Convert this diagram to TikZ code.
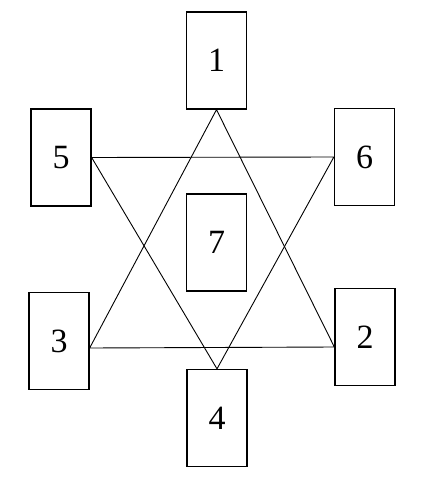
\documentclass[tikz,border=0pt]{standalone}
\usepackage{fontspec}
\setmainfont{Liberation Serif}
\begin{document}
\begin{tikzpicture}[x=1pt,y=-1pt,
  card/.style={draw,line width=1.3pt,minimum width=60pt,minimum height=97pt,inner sep=0pt,font=\fontsize{34}{34}\selectfont},
  link/.style={line width=0.9pt}]
\useasboundingbox (0,0) rectangle (424,482);
\node[card] (n1) at (216.5,60.5) {1};
\node[card] (n5) at (61,157.5) {5};
\node[card] (n6) at (364.5,157) {6};
\node[card] (n7) at (216.5,242.5) {7};
\node[card] (n3) at (59,341) {3};
\node[card] (n2) at (365,337) {2};
\node[card] (n4) at (217,418) {4};
\coordinate (p3) at ([yshift=-7pt]n3.east);
\coordinate (p2) at ([yshift=-10pt]n2.west);
\draw[link] (n1.south) -- (p2) -- (p3) -- cycle;
\draw[link] (n5.east) -- (n6.west) -- (n4.north) -- cycle;
\end{tikzpicture}
\end{document}
